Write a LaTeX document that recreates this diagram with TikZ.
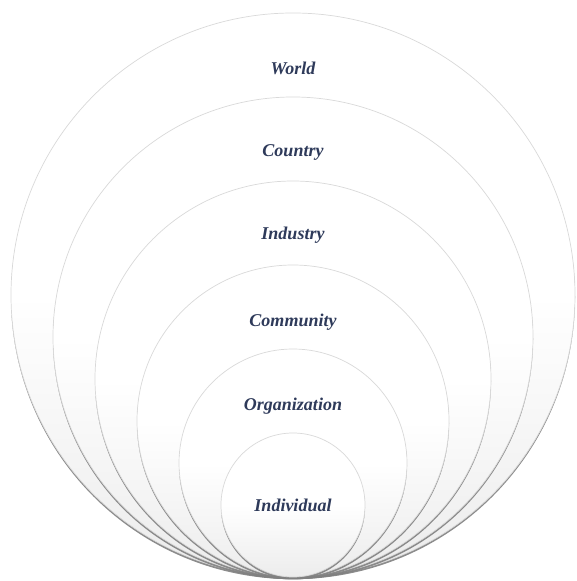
\documentclass[tikz,border=0pt]{standalone}
\usepackage{fontspec}
\setmainfont{Liberation Serif}
\usetikzlibrary{shadows}

\definecolor{levelblue}{HTML}{2E3A5A}
% white upper half, light grey towards the bottom
\pgfdeclareverticalshading{ringfill}{100bp}{color(0bp)=(gray!15); color(25bp)=(gray!15);
  color(38bp)=(gray!7); color(50bp)=(white); color(100bp)=(white)}
\tikzset{
  ring/.style={circle, inner sep=0pt, draw=gray!30, line width=0.7pt,
    shading=ringfill,
    drop shadow={opacity=0.9, shadow xshift=0pt, shadow yshift=-2.2pt}},
  level/.style={font=\fontsize{18}{20}\selectfont\bfseries\itshape, text=levelblue}
}

\begin{document}
\begin{tikzpicture}[x=1pt,y=1pt]
    \useasboundingbox (0,0) rectangle (576,581);
    % nested rings, all touching at the bottom
    \node[ring, minimum size=564pt] (world) at (293,286) {};
    \node[ring, minimum size=480pt] (country) at (293,244) {};
    \node[ring, minimum size=396pt] (industry) at (293,202) {};
    \node[ring, minimum size=312pt] (community) at (293,160) {};
    \node[ring, minimum size=228pt] (organization) at (293,118) {};
    \node[ring, minimum size=144pt] (individual) at (293,76) {};
    % labels
    \node[level] (worldlbl) at (293,513) {World};
    \node[level] (countrylbl) at (293,429) {Country};
    \node[level] (industrylbl) at (293,346) {Industry};
    \node[level] (communitylbl) at (293,259) {Community};
    \node[level] (organizationlbl) at (293,175) {Organization};
    \node[level] (individuallbl) at (293,76) {Individual};
\end{tikzpicture}
\end{document}
